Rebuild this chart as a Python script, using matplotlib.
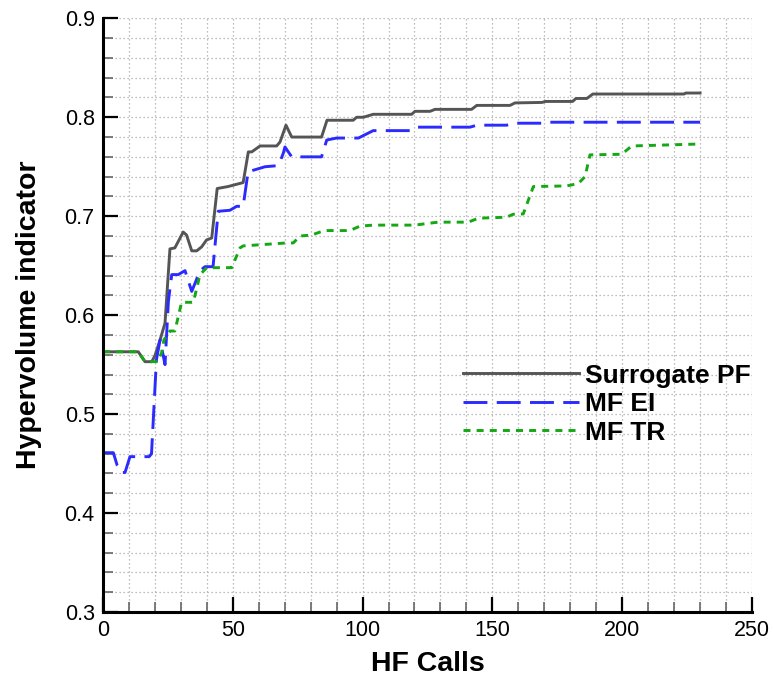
import matplotlib
matplotlib.use("Agg")
import matplotlib.pyplot as plt
from matplotlib.ticker import MultipleLocator, FormatStrFormatter

plt.rcParams['font.family'] = ['Liberation Sans', 'DejaVu Sans']

# Hypervolume histories vs. number of high-fidelity calls
surrogate_x = [0, 13.6, 16.2, 18.8, 20, 22, 23.9, 25.8, 27.7, 30.9,
               32.2, 34.2, 36.1, 38, 39.9, 41.9, 44, 48.2, 54, 56,
               57.3, 60.5, 66.9, 68.2, 70.5, 72.7, 84.2, 86.3, 96.4, 97.7,
               100.3, 104.1, 118.9, 120.2, 126, 127.9, 142, 144, 156.8, 158.7,
               169.1, 170.5, 180.9, 182.2, 186.4, 188.7, 223.8, 224.5, 230]
surrogate_y = [0.563, 0.563, 0.553, 0.553, 0.559, 0.575, 0.592, 0.667, 0.668, 0.684,
               0.681, 0.665, 0.665, 0.669, 0.676, 0.678, 0.728, 0.730, 0.734, 0.765,
               0.765, 0.771, 0.771, 0.775, 0.792, 0.780, 0.780, 0.797, 0.797, 0.800,
               0.800, 0.803, 0.803, 0.806, 0.806, 0.808, 0.808, 0.812, 0.812, 0.8145,
               0.815, 0.816, 0.816, 0.819, 0.819, 0.8235, 0.8235, 0.8245, 0.8245]

mfei_x = [0, 4, 5.5, 7.2, 8.5, 10.4, 17.8, 18.7, 20.6, 22,
          23.9, 25.2, 26.5, 29, 31.6, 34.2, 37.4, 39.3, 42.4, 44.4,
          48.9, 51.5, 54, 55.9, 58.6, 62.4, 66.9, 68.2, 69.5, 70.1,
          72.7, 84.2, 86.2, 90, 98.4, 102.2, 104.1, 118.3, 120.5, 141.4,
          144, 155.5, 158, 169, 170.3, 230]
mfei_y = [0.461, 0.461, 0.448, 0.441, 0.441, 0.457, 0.457, 0.460, 0.555, 0.575,
          0.550, 0.614, 0.641, 0.641, 0.645, 0.624, 0.645, 0.649, 0.649, 0.705,
          0.706, 0.710, 0.710, 0.745, 0.747, 0.750, 0.751, 0.755, 0.764, 0.770,
          0.760, 0.760, 0.777, 0.779, 0.779, 0.784, 0.7865, 0.7865, 0.790, 0.790,
          0.792, 0.792, 0.794, 0.794, 0.795, 0.795]

mftr_x = [0, 13.6, 16.2, 21, 22.6, 23.5, 25.8, 27.7, 30.3, 34.8,
          37.4, 40, 49.6, 52.8, 54, 70.8, 73.3, 75.9, 80.4, 83.6,
          85.5, 92.6, 95.1, 99, 104.1, 120.2, 124.7, 129.2, 140.7, 144.6,
          155.5, 158, 161.9, 165.8, 178.6, 183.1, 185.7, 187.6, 199.8, 203.7,
          230]
mftr_y = [0.563, 0.563, 0.553, 0.553, 0.562, 0.575, 0.584, 0.584, 0.613, 0.613,
          0.641, 0.648, 0.648, 0.668, 0.670, 0.673, 0.673, 0.680, 0.681, 0.684,
          0.6855, 0.6855, 0.6855, 0.690, 0.691, 0.691, 0.6926, 0.694, 0.694, 0.698,
          0.699, 0.702, 0.7023, 0.730, 0.7306, 0.733, 0.740, 0.762, 0.7626, 0.771,
          0.773]

labels = ['Surrogate PF', 'MF EI', 'MF TR']

fig = plt.figure(figsize=(7.73, 6.81), dpi=100)
ax = fig.add_axes([0.1332, 0.1013, 0.8396, 0.8718])

ax.plot(surrogate_x, surrogate_y, color='#555555', lw=2.1, label=labels[0])
ax.plot(mfei_x, mfei_y, color='#2b2bff', lw=2.1, dashes=(8.2, 3.2), label=labels[1])
ax.plot(mftr_x, mftr_y, color='#14a814', lw=2.1, dashes=(2.4, 2.1), label=labels[2])

ax.set_xlim(0, 250)
ax.set_ylim(0.3, 0.9)
ax.xaxis.set_major_locator(MultipleLocator(50))
ax.xaxis.set_minor_locator(MultipleLocator(10))
ax.yaxis.set_major_locator(MultipleLocator(0.1))
ax.yaxis.set_minor_locator(MultipleLocator(0.02))
ax.yaxis.set_major_formatter(FormatStrFormatter('%.1f'))

ax.set_axisbelow(True)
ax.grid(which='both', color='#a8a8a8', lw=0.9, linestyle=(0, (1, 2.2)))

for side in ('top', 'right'):
    ax.spines[side].set_visible(False)
for side in ('left', 'bottom'):
    ax.spines[side].set_linewidth(2.2)

ax.tick_params(which='major', direction='in', length=11, width=1.6,
               labelsize=15.5, pad=6)
ax.tick_params(which='minor', direction='in', length=7, width=1.2, color='#666666')

ax.set_xlabel('HF Calls', fontsize=20.5, fontweight='bold', labelpad=7)
ax.set_ylabel('Hypervolume indicator', fontsize=20.5, fontweight='bold', labelpad=16)

leg = ax.legend(loc='center left', bbox_to_anchor=(0.555, 0.350), frameon=False,
                prop={'size': 19, 'weight': 'bold'}, handlelength=4.4,
                handletextpad=0.2, labelspacing=0.17, borderaxespad=0,
                borderpad=0)

fig.savefig('out.png', dpi=100)
